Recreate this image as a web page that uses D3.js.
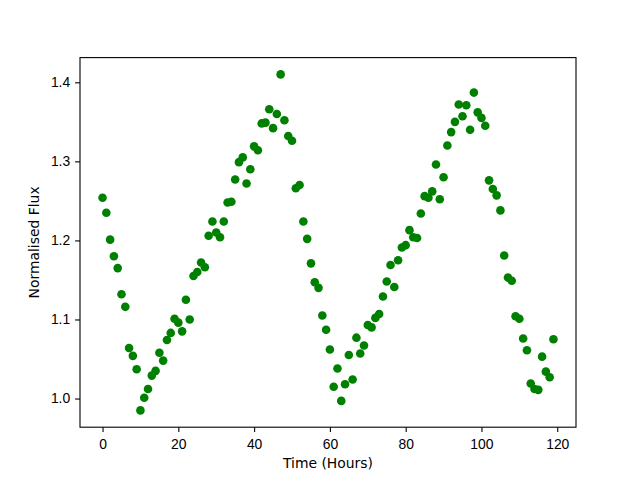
<!DOCTYPE html>
<html lang="en">
<head>
  <meta charset="UTF-8" />
  <title>Normalised Flux vs Time</title>
  <style>
    html, body { margin:0; padding:0; background:#fff; }
    svg { display:block; font-family:"DejaVu Sans", sans-serif; }
    .tick text { font-size:13.9px; fill:#000; }
    .axis-label { font-size:13.9px; fill:#000; }
  </style>
</head>
<body>
  <div id="chart"></div>
  <script src="https://d3js.org/d3.v7.min.js"></script>
  <script>
  // Data: time in hours and normalised flux
  const hours = [
    0,1,2,3,4,5,6,7,8,9,10,11,12,13,14,15,16,17,18,19,
    20,21,22,23,24,25,26,27,28,29,30,31,32,33,34,35,36,37,38,39,
    40,41,42,43,44,45,46,47,48,49,50,51,52,53,54,55,56,57,58,59,
    60,61,62,63,64,65,66,67,68,69,70,71,72,73,74,75,76,77,78,79,
    80,81,82,83,84,85,86,87,88,89,90,91,92,93,94,95,96,97,98,99,
    100,101,102,103,104,105,106,107,108,109,110,111,112,113,114,115,116,117,118,119
  ];
  const flux = [
    1.254,1.235,1.201,1.180,1.165,1.132,1.116,1.064,1.054,1.037,
    0.985,1.001,1.012,1.029,1.035,1.058,1.048,1.074,1.083,1.101,
    1.096,1.085,1.125,1.100,1.155,1.160,1.172,1.166,1.206,1.224,
    1.210,1.204,1.224,1.248,1.249,1.277,1.299,1.305,1.272,1.290,
    1.319,1.314,1.348,1.349,1.366,1.342,1.360,1.410,1.352,1.332,
    1.326,1.266,1.270,1.224,1.202,1.171,1.147,1.140,1.105,1.087,
    1.062,1.015,1.038,0.997,1.018,1.055,1.024,1.077,1.057,1.067,
    1.093,1.090,1.102,1.107,1.129,1.148,1.169,1.141,1.175,1.191,
    1.194,1.213,1.204,1.203,1.234,1.256,1.254,1.262,1.296,1.252,
    1.280,1.320,1.337,1.350,1.372,1.357,1.371,1.340,1.387,1.362,
    1.355,1.345,1.276,1.265,1.257,1.238,1.181,1.153,1.149,1.104,
    1.101,1.076,1.061,1.019,1.012,1.011,1.053,1.034,1.027,1.075
  ];
  const xTicks = [0, 20, 40, 60, 80, 100, 120];
  const yTicks = [1.0, 1.1, 1.2, 1.3, 1.4];

  const W = 640, H = 480;
  const margin = { left: 80, right: 64, top: 57.6, bottom: 52.8 };
  const pw = W - margin.left - margin.right;
  const ph = H - margin.top - margin.bottom;

  // matplotlib-style 5% padding on the data range
  const xMin = d3.min(hours), xMax = d3.max(hours);
  const yMin = d3.min(flux), yMax = d3.max(flux);
  const xPad = (xMax - xMin) * 0.05, yPad = (yMax - yMin) * 0.05;

  const x = d3.scaleLinear().domain([xMin - xPad, xMax + xPad]).range([0, pw]);
  const y = d3.scaleLinear().domain([yMin - yPad, yMax + yPad]).range([ph, 0]);

  const svg = d3.select('#chart').append('svg')
    .attr('width', W).attr('height', H);

  const g = svg.append('g')
    .attr('transform', `translate(${margin.left},${margin.top})`);

  const points = hours.map((h, i) => ({ h, f: flux[i] }));

  g.append('g').selectAll('circle')
    .data(points)
    .join('circle')
      .attr('cx', d => x(d.h))
      .attr('cy', d => y(d.f))
      .attr('r', 4.3)
      .attr('fill', '#008000');

  // Axes
  const xAxis = g.append('g')
    .attr('transform', `translate(0,${ph})`)
    .call(d3.axisBottom(x).tickValues(xTicks).tickFormat(d3.format('d')).tickSize(4.9).tickPadding(4.9));
  const yAxis = g.append('g')
    .call(d3.axisLeft(y).tickValues(yTicks).tickFormat(d3.format('.1f')).tickSize(4.9).tickPadding(4.9));

  [xAxis, yAxis].forEach(a => {
    a.select('.domain').remove();
    a.selectAll('.tick line').attr('stroke', '#000').attr('stroke-width', 1.1);
  });
  xAxis.selectAll('.tick text').attr('dy', '0.9em');

  // Frame (all four spines)
  g.append('rect')
    .attr('x', 0).attr('y', 0)
    .attr('width', pw).attr('height', ph)
    .attr('fill', 'none')
    .attr('stroke', '#000')
    .attr('stroke-width', 1.1);

  // Axis labels
  svg.append('text')
    .attr('class', 'axis-label')
    .attr('x', margin.left + pw / 2)
    .attr('y', 468)
    .attr('text-anchor', 'middle')
    .text('Time (Hours)');

  svg.append('text')
    .attr('class', 'axis-label')
    .attr('transform', `translate(39,${margin.top + ph / 2}) rotate(-90)`)
    .attr('text-anchor', 'middle')
    .text('Normalised Flux');
  </script>
</body>
</html>
